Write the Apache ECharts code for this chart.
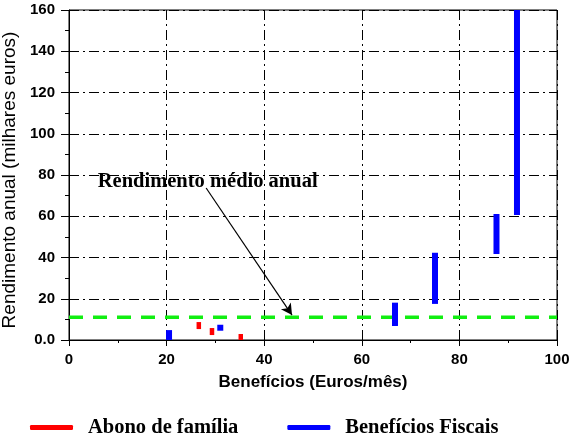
<!DOCTYPE html>
<html>
<head>
<meta charset="utf-8">
<script src="https://cdn.jsdelivr.net/npm/echarts@6/dist/echarts.min.js"></script>
<style>
  html, body { margin: 0; padding: 0; background: #fff; }
  #chart { width: 570px; height: 438px; }
</style>
</head>
<body>
<div id="chart"></div>
<script>
// Abono de família (x = euros/mês, low/high = rendimento anual)
const redX = [26.6, 29.3, 35.2];
const redLow = [5.3, 2.4, 0];
const redHigh = [8.7, 5.8, 2.9];

// Benefícios Fiscais
const blueX = [20.5, 31, 66.8, 75, 87.6, 91.8];
const blueLow = [0, 4.5, 6.8, 17.5, 41.7, 60.6];
const blueHigh = [4.8, 7.4, 18.1, 42.3, 61.1, 160];

// rendimento médio anual
const avgIncome = 11;
const arrowFrom = [28.1, 73.7];
const arrowTo = [45.7, 12.1];
const labelPos = [5.9, 76.6];

const xTicks = [0, 20, 40, 60, 80, 100];
const yTicks = [0, 20, 40, 60, 80, 100, 120, 140, 160];

const sans = 'Liberation Sans, Arial, sans-serif';
const serif = 'Liberation Serif, Times New Roman, serif';

function segments(xs, lo, hi) {
  return xs.map((x, i) => [x, lo[i], hi[i]]);
}

function barRenderer(w) {
  return function (params, api) {
    const top = api.coord([api.value(0), api.value(2)]);
    const bottom = api.coord([api.value(0), api.value(1)]);
    return {
      type: 'rect',
      shape: { x: top[0] - w / 2, y: top[1], width: w, height: bottom[1] - top[1] },
      style: { fill: api.visual('color') }
    };
  };
}

const dashDot = [10, 4, 2, 4];

const chart = echarts.init(document.getElementById('chart'));
chart.setOption({
  animation: false,
  grid: {
    left: 69, right: 13, top: 10, bottom: 98,
    containLabel: false, outerBoundsMode: 'none',
    show: true, borderColor: '#000', borderWidth: 1
  },
  xAxis: {
    type: 'value', min: xTicks[0], max: xTicks[xTicks.length - 1], interval: 20,
    name: 'Benefícios (Euros/mês)', nameLocation: 'middle', nameGap: 34,
    nameTextStyle: { fontFamily: sans, fontSize: 17, fontWeight: 'bold', color: '#000' },
    axisLine: { lineStyle: { color: '#000', width: 1 } },
    axisTick: { length: 6, lineStyle: { color: '#000' } },
    minorTick: { show: true, splitNumber: 2, length: 3, lineStyle: { color: '#000' } },
    axisLabel: { fontFamily: sans, fontSize: 15, fontWeight: 'bold', color: '#000', margin: 12 },
    splitLine: { show: true, lineStyle: { color: '#000', type: dashDot, width: 1 } }
  },
  yAxis: {
    type: 'value', min: yTicks[0], max: yTicks[yTicks.length - 1], interval: 20,
    name: 'Rendimento anual (milhares euros)', nameLocation: 'middle', nameGap: 43,
    nameTextStyle: { fontFamily: sans, fontSize: 19, color: '#000', padding: [0, 10, 0, 0] },
    axisLine: { show: true, lineStyle: { color: '#000', width: 1 } },
    axisTick: { show: true, length: 8, lineStyle: { color: '#000' } },
    minorTick: { show: true, splitNumber: 2, length: 4, lineStyle: { color: '#000' } },
    axisLabel: {
      fontFamily: sans, fontSize: 15, fontWeight: 'bold', color: '#000', margin: 14,
      formatter: v => (v === 0 ? '0.0' : String(v))
    },
    splitLine: { show: true, lineStyle: { color: '#000', type: dashDot, width: 1 } }
  },
  legend: {
    left: 25, top: 412,
    itemWidth: 43, itemHeight: 5, itemGap: 49,
    icon: 'roundRect',
    textStyle: { fontFamily: serif, fontSize: 20.5, fontWeight: 'bold', color: '#000', padding: [0, 0, 0, 10] },
    data: ['Abono de família', 'Benefícios Fiscais']
  },
  series: [
    {
      name: 'Rendimento médio',
      type: 'line',
      data: [[0, avgIncome], [100, avgIncome]],
      symbol: 'none',
      lineStyle: { color: '#11ee11', width: 3.5, type: [14, 10] },
      z: 3,
      markLine: {
        silent: true,
        symbol: ['none', 'arrow'],
        symbolSize: [9, 11],
        lineStyle: { color: '#000', width: 1.2, type: 'solid' },
        label: { show: false },
        data: [[{ coord: arrowFrom }, { coord: arrowTo }]]
      }
    },
    {
      name: 'Abono de família',
      type: 'custom',
      renderItem: barRenderer(4.5),
      itemStyle: { color: '#ff0000' },
      encode: { x: 0, y: [1, 2] },
      data: segments(redX, redLow, redHigh),
      z: 4
    },
    {
      name: 'Benefícios Fiscais',
      type: 'custom',
      renderItem: barRenderer(6),
      itemStyle: { color: '#0000ff' },
      encode: { x: 0, y: [1, 2] },
      data: segments(blueX, blueLow, blueHigh),
      z: 4
    },
    {
      name: 'label',
      type: 'scatter',
      data: [labelPos],
      symbolSize: 0,
      silent: true,
      z: 5,
      itemStyle: { color: '#000', opacity: 1 },
      label: {
        show: true, position: 'right', distance: 0,
        formatter: 'Rendimento médio anual',
        fontFamily: serif, fontSize: 20.5, fontWeight: 'bold', color: '#000', opacity: 1
      }
    }
  ]
});
</script>
</body>
</html>
